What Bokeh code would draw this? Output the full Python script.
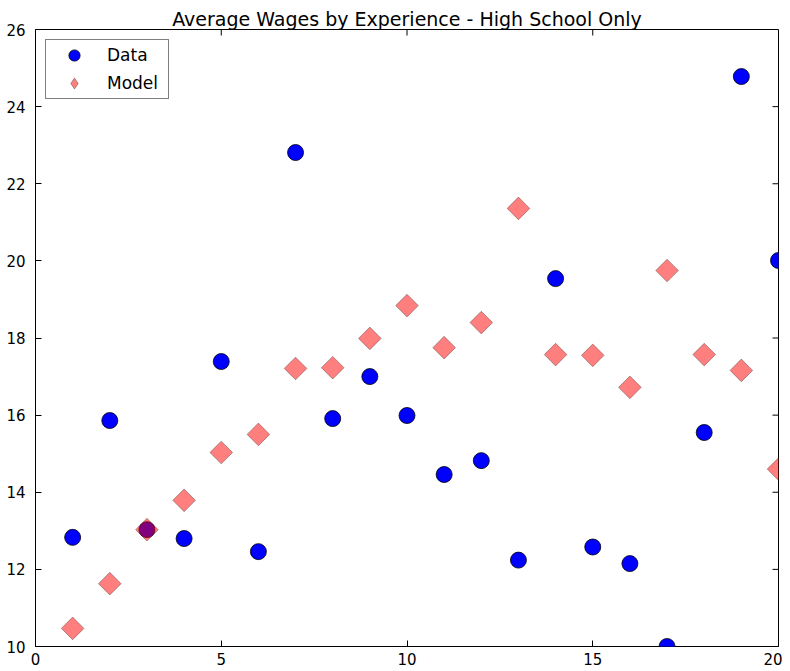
import math
from bokeh.plotting import figure
from bokeh.models import (ColumnDataSource, SingleIntervalTicker,
                          Range1d, Legend, LegendItem)
from bokeh.embed import file_html
from bokeh.resources import INLINE

experience = list(range(1, 21))
data_wages = [12.83, 15.86, 13.03, 12.80, 17.39, 12.46, 22.81, 15.91, 17.00, 15.99,
              14.46, 14.82, 12.24, 19.54, 12.58, 12.15, 10.00, 15.55, 24.78, 20.01]
model_wages = [10.47, 11.63, 13.03, 13.79, 15.03, 15.50, 17.21, 17.23, 17.99, 18.84,
               17.75, 18.40, 21.36, 17.57, 17.55, 16.72, 19.75, 17.57, 17.16, 14.60]
x_ticks = [0, 5, 10, 15, 20]
y_ticks = [10, 12, 14, 16, 18, 20, 22, 24, 26]

FONT = "DejaVu Sans"

p = figure(frame_width=743, frame_height=617, output_backend="svg", toolbar_location=None,
           x_range=Range1d(0, 20), y_range=Range1d(10, 26),
           title="Average Wages by Experience - High School Only",
           min_border_left=35, min_border_right=4, min_border_top=29,
           min_border_bottom=17)

p.title.align = "center"
p.title.text_font = FONT
p.title.text_font_size = "19px"
p.title.text_font_style = "normal"
p.title.text_color = "black"
p.title.standoff = 0
p.title.offset = 0

p.grid.visible = False
p.outline_line_color = "black"
p.outline_line_width = 1
p.background_fill_color = "white"
p.border_fill_color = "white"

for ax in (p.xaxis[0], p.yaxis[0]):
    ax.major_tick_in = 6
    ax.major_tick_out = 0
    ax.minor_tick_line_color = None
    ax.axis_line_color = None
    ax.major_label_text_font = FONT
    ax.major_label_text_font_size = "15px"
    ax.major_label_text_color = "black"
    ax.major_tick_line_color = "black"
p.xaxis[0].ticker = SingleIntervalTicker(interval=5)
p.yaxis[0].ticker = SingleIntervalTicker(interval=2)
p.xaxis[0].major_label_standoff = 2
p.yaxis[0].major_label_standoff = 6

# inward ticks on the top and right edges (matplotlib classic style)
p.ray(x=x_ticks, y=[26] * len(x_ticks), length=6, length_units="screen",
      angle=-math.pi / 2, line_color="black", line_width=1)
p.ray(x=[20] * len(y_ticks), y=y_ticks, length=6, length_units="screen",
      angle=math.pi, line_color="black", line_width=1)

src = ColumnDataSource(dict(x=experience, d=data_wages, m=model_wages))

r_data = p.scatter("x", "d", source=src, marker="circle", size=16,
                   fill_color="#0000ff", line_color="black", line_width=0.8)
r_model = p.scatter("x", "m", source=src, marker="square", size=16, angle=math.pi / 4,
                    fill_color="#ff0000", fill_alpha=0.5, line_color="black",
                    line_alpha=0.3, line_width=1)
# legend proxy with a diamond shape (not drawn in the plot)
r_model_leg = p.scatter("x", "m", source=src, marker="diamond", size=30,
                        fill_color="#ff0000", fill_alpha=0.5, line_color="black",
                        line_alpha=0.3, line_width=1, visible=False)

legend = Legend(items=[LegendItem(label="Data", renderers=[r_data]),
                       LegendItem(label="Model", renderers=[r_model_leg])],
                location="top_left")
legend.label_text_font = FONT
legend.label_text_font_size = "17px"
legend.label_text_color = "black"
legend.border_line_color = "black"
legend.border_line_width = 1
legend.background_fill_alpha = 1
legend.margin = 10
legend.padding = 1
legend.spacing = 0
legend.label_standoff = 6
legend.label_width = 60
legend.glyph_width = 54
legend.glyph_height = 28
p.add_layout(legend)

open("out.html", "w").write(file_html(p, INLINE))
